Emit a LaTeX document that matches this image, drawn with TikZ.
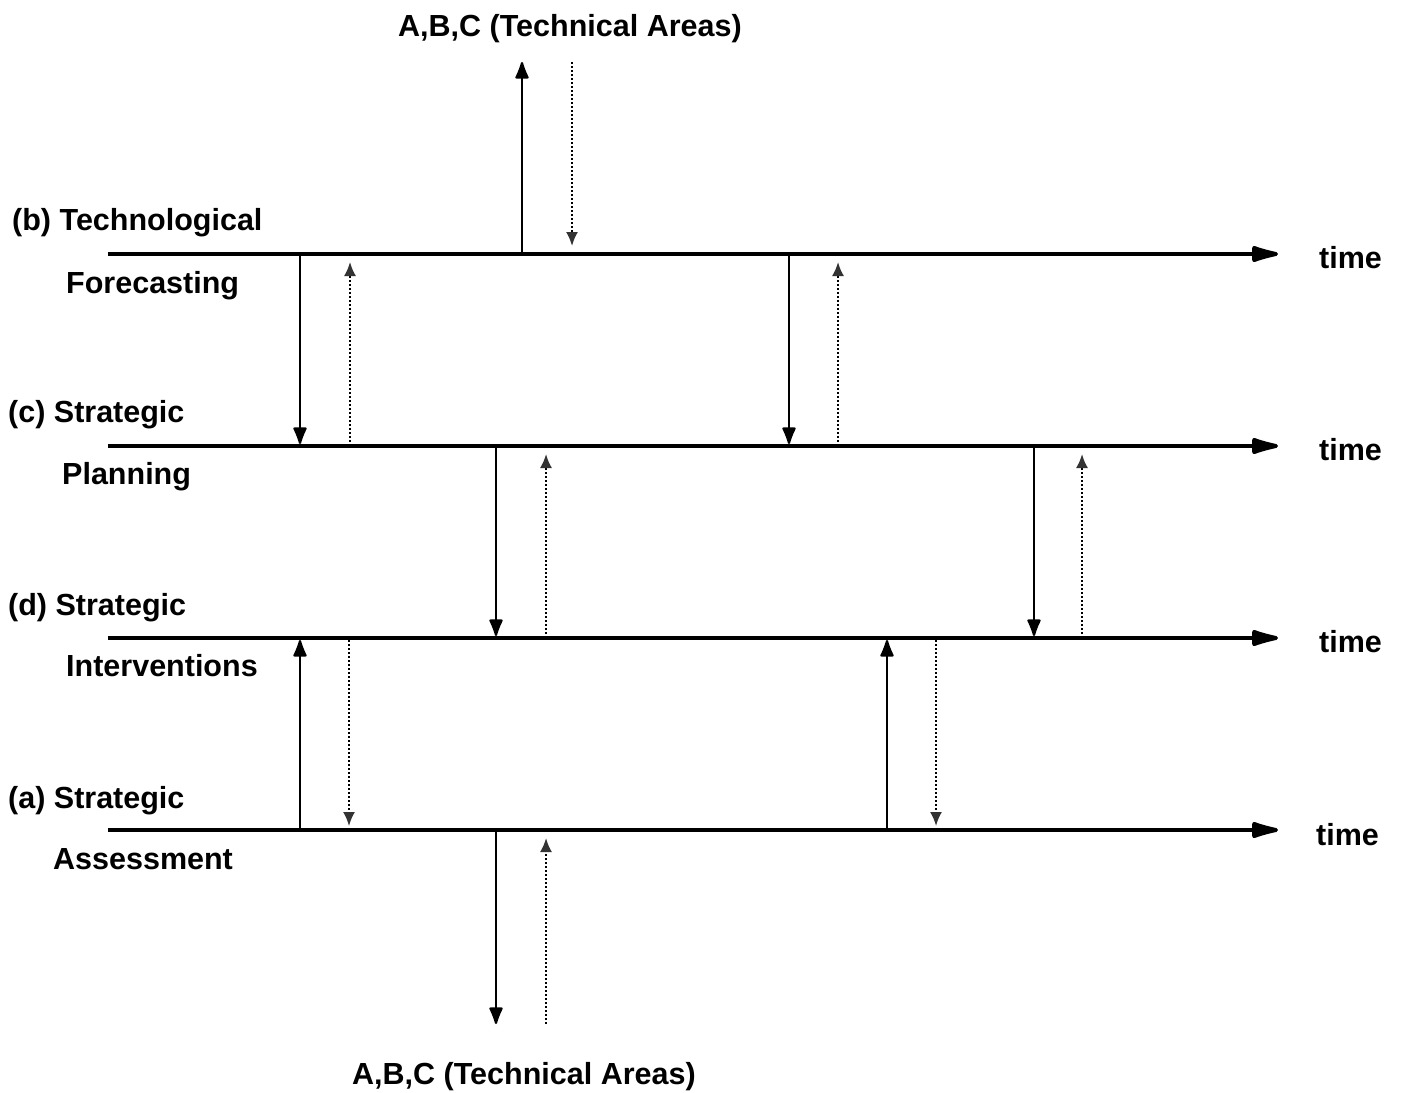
\documentclass[tikz,border=0pt]{standalone}
\usepackage{fontspec}
\setmainfont{Liberation Sans}
\usetikzlibrary{arrows.meta}
\begin{document}
\begin{tikzpicture}[x=1pt,y=-1pt,
  lbl/.style={inner sep=0pt,anchor=base west,font=\fontsize{30.5}{33}\selectfont\bfseries},
  timeline/.style={line width=4pt,-{Latex[length=36pt,width=18pt,round]}},
  flow/.style={line width=2.2pt,-{Latex[length=20pt,width=15pt,round]}},
  feedback/.style={line width=2pt,dotted,-{Latex[length=14pt,width=12pt,color=black!80]}}]
\useasboundingbox[fill=white] (0,0) rectangle (1405,1092);

% time axes
\coordinate (b0) at (108,254);  \coordinate (b1) at (1278,254);
\coordinate (c0) at (108,446);  \coordinate (c1) at (1278,446);
\coordinate (d0) at (108,638);  \coordinate (d1) at (1278,638);
\coordinate (a0) at (108,830);  \coordinate (a1) at (1278,830);
\draw[timeline] (b0) -- (b1);
\draw[timeline] (c0) -- (c1);
\draw[timeline] (d0) -- (d1);
\draw[timeline] (a0) -- (a1);

% axis labels
\node[lbl] (lb1) at (12,230) {(b) Technological};
\node[lbl] (lb2) at (66,293) {Forecasting};
\node[lbl] (lc1) at (8,422) {(c) Strategic};
\node[lbl] (lc2) at (62,484) {Planning};
\node[lbl] (ld1) at (8,615) {(d) Strategic};
\node[lbl] (ld2) at (66,676) {Interventions};
\node[lbl] (la1) at (8,808) {(a) Strategic};
\node[lbl] (la2) at (53,869) {Assessment};
\node[lbl] (tb) at (1319,268) {time};
\node[lbl] (tc) at (1319,460) {time};
\node[lbl] (td) at (1319,652) {time};
\node[lbl] (ta) at (1316,845) {time};

% technical areas
\node[lbl] (top) at (398,36) {A,B,C (Technical Areas)};
\node[lbl] (bot) at (352,1084) {A,B,C (Technical Areas)};
\coordinate (topS) at (522,62);  \coordinate (topD) at (572,62);
\coordinate (botS) at (496,1024); \coordinate (botD) at (546,1024);

% forecasting <-> technical areas
\draw[flow] (522,254) -- (topS);
\draw[feedback] (topD) -- (572,246);

% forecasting -> planning
\draw[flow] (300,254) -- (300,444);
\draw[feedback] (350,446) -- (350,262);
\draw[flow] (789,254) -- (789,444);
\draw[feedback] (838,446) -- (838,262);

% planning -> interventions
\draw[flow] (496,446) -- (496,636);
\draw[feedback] (546,638) -- (546,454);
\draw[flow] (1034,446) -- (1034,636);
\draw[feedback] (1082,638) -- (1082,454);

% assessment -> interventions
\draw[flow] (300,830) -- (300,640);
\draw[feedback] (349,640) -- (349,826);
\draw[flow] (887,830) -- (887,640);
\draw[feedback] (936,640) -- (936,826);

% assessment <-> technical areas
\draw[flow] (496,830) -- (botS);
\draw[feedback] (botD) -- (546,838);
\end{tikzpicture}
\end{document}
